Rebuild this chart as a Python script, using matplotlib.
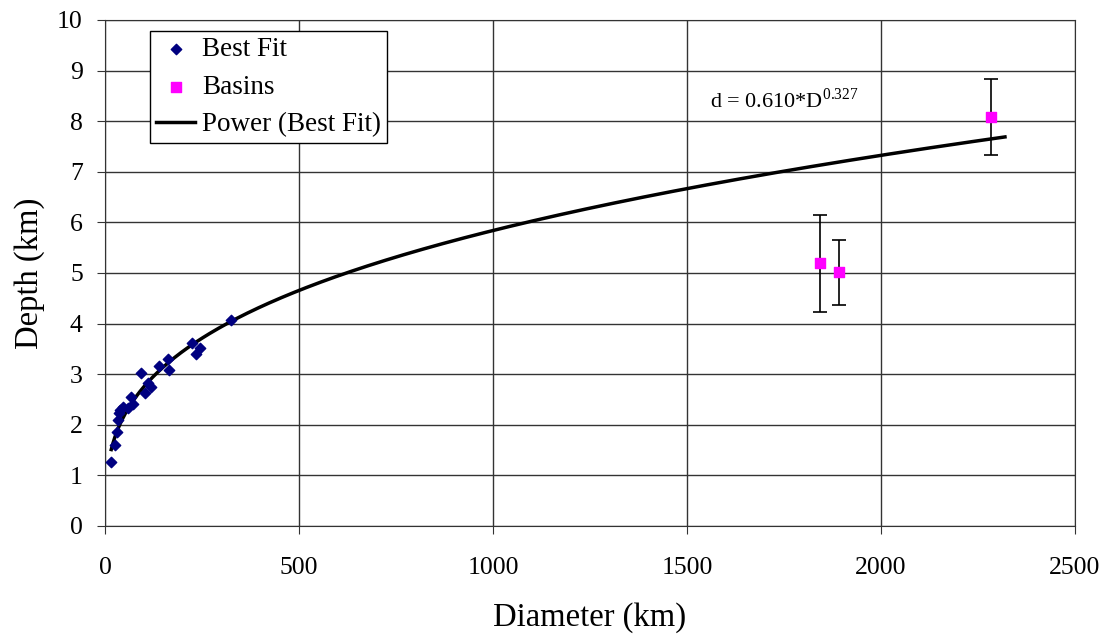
import numpy as np
import matplotlib.pyplot as plt

plt.rcParams['font.family'] = ['Liberation Serif', 'DejaVu Serif']
plt.rcParams['mathtext.fontset'] = 'custom'
plt.rcParams['mathtext.rm'] = 'Liberation Serif'

# crater diameters (km) and depths (km)
fit_D = [15.5, 26, 30, 34, 37, 39, 47, 60, 67, 73, 93, 103, 112, 119, 139, 161, 164, 224, 235, 245, 325]
fit_d = [1.27, 1.60, 1.86, 2.09, 2.23, 2.29, 2.35, 2.33, 2.54, 2.41, 3.02, 2.63, 2.82, 2.75, 3.17, 3.29, 3.08, 3.62, 3.40, 3.51, 4.08]

basin_D = [1843, 1893, 2285]
basin_d = [5.19, 5.01, 8.09]
basin_err = [0.96, 0.65, 0.75]

coef = 0.610
expo = 0.327

fig = plt.figure(figsize=(11.07, 6.36), dpi=100)
ax = fig.add_axes([0.0949, 0.173, 0.876, 0.7956])

# power law fit curve
Dc = np.linspace(16, 2320, 500)
ax.plot(Dc, coef * Dc ** expo, color='black', lw=2.5, label='Power (Best Fit)', zorder=3)

ax.scatter(fit_D, fit_d, marker='D', s=28, color='#000080', label='Best Fit', zorder=4)
ax.errorbar(basin_D, basin_d, yerr=basin_err, fmt='none', ecolor='black',
            elinewidth=1.2, capsize=5, capthick=1.2, zorder=4)
ax.scatter(basin_D, basin_d, marker='s', s=45, color='#ff00ff', label='Basins', zorder=5)

ax.text(1559, 8.27, r'd = 0.610*D$^{\mathregular{0.327}}$', fontsize=16)

ax.set_xlim(0, 2500)
ax.set_ylim(0, 10)
ax.set_xticks(np.arange(0, 2501, 500))
ax.set_yticks(np.arange(0, 11, 1))
ax.grid(True, color='#333333', lw=1)
ax.set_axisbelow(True)
ax.tick_params(axis='both', direction='out', length=6, labelsize=18.5, color='#333333')
ax.tick_params(axis='x', pad=16)
ax.tick_params(axis='y', pad=10)
for s in ax.spines.values():
    s.set_color('#333333')

ax.set_xlabel('Diameter (km)', fontsize=23.5, labelpad=17)
ax.set_ylabel('Depth (km)', fontsize=23.5, labelpad=9)

handles, labels = ax.get_legend_handles_labels()
order = [labels.index('Best Fit'), labels.index('Basins'), labels.index('Power (Best Fit)')]
leg = ax.legend([handles[i] for i in order], [labels[i] for i in order],
                loc='upper left', bbox_to_anchor=(0.046, 0.978), fontsize=19.5,
                frameon=True, fancybox=False, edgecolor='black', framealpha=1,
                handlelength=1.45, handletextpad=0.26, borderpad=0.23,
                labelspacing=0.46, borderaxespad=0)
leg.get_frame().set_linewidth(1)

plt.savefig('out.png', dpi=100)
plt.close()
